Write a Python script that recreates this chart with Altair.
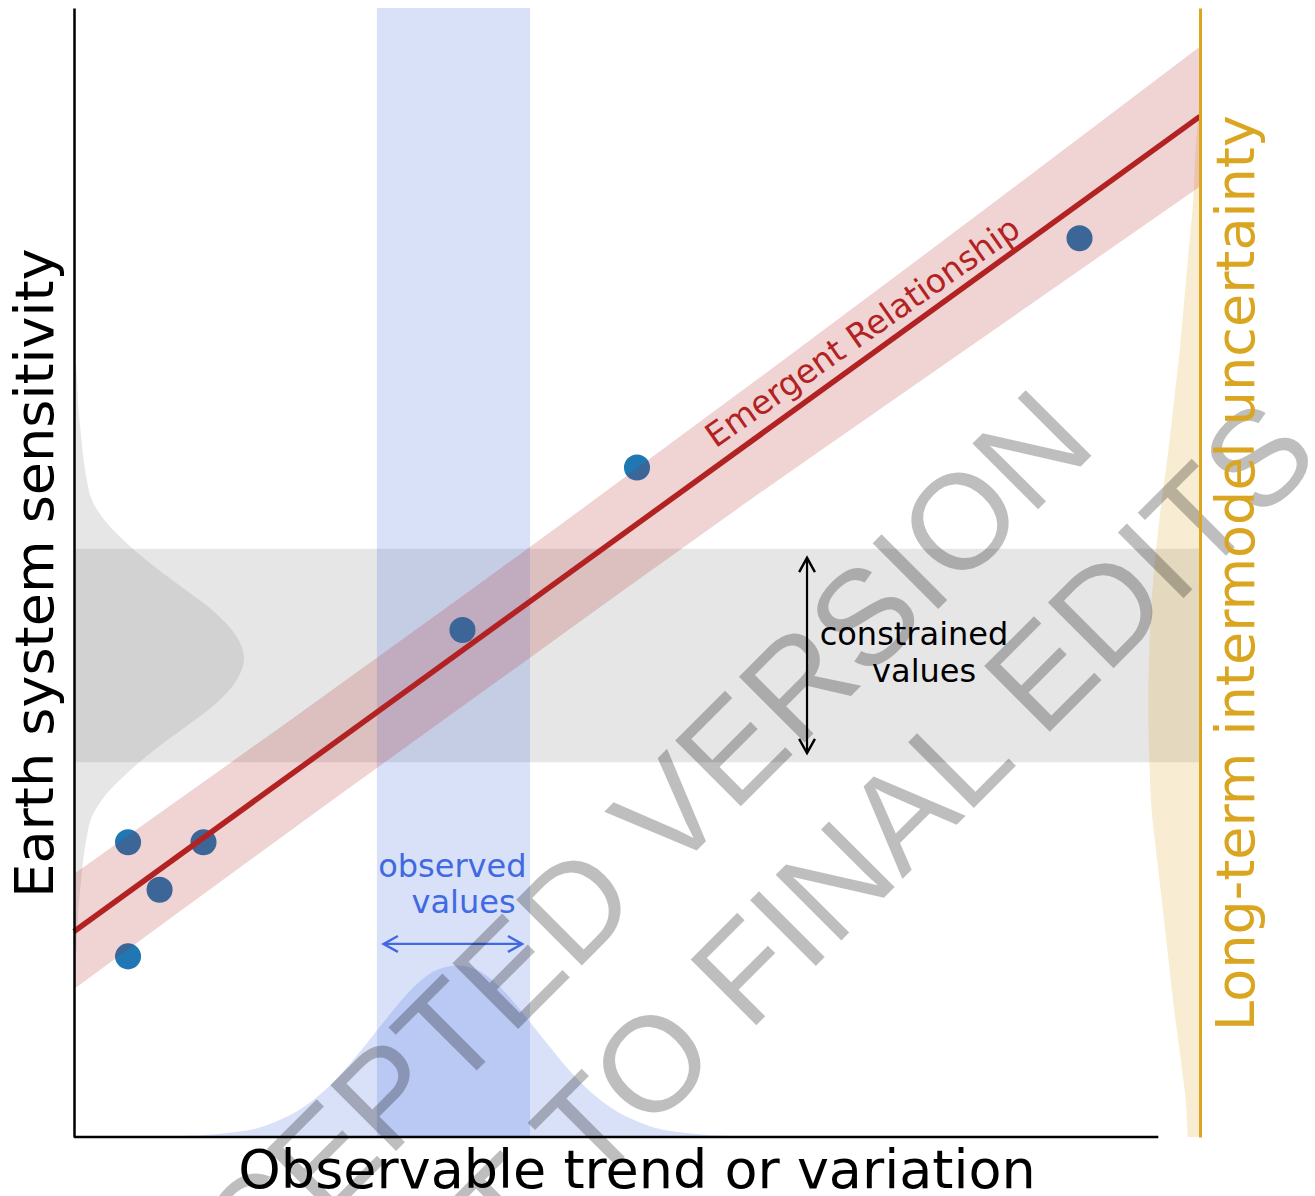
import altair as alt
import pandas as pd

FONT = "DejaVu Sans"
W, H = 1126, 1129  # plot area in pixels

# ---------------- data ----------------
# individual model results
model_x = [0.48, 0.76, 1.15, 0.48, 3.45, 5.00, 8.93]
model_y = [2.61, 2.19, 2.61, 1.60, 4.49, 5.93, 7.96]

# emergent relationship (fit) and its uncertainty band
fit_x = [0.0, 10.0]
fit_y = [1.82, 9.04]
band_x = [0, 2, 4, 6, 8, 10]
band_lo = [1.31, 2.77, 4.21, 5.64, 7.03, 8.42]
band_hi = [2.33, 3.75, 5.19, 6.66, 8.15, 9.66]

# observed range (vertical strip) and constrained range (horizontal strip)
obs_range = [2.69, 4.05]
con_range = [3.32, 5.21]

# pdf of the observations along the x axis
obs_pdf_x = [1.0, 1.2, 1.4, 1.6, 1.8, 2.0, 2.2, 2.4, 2.6, 2.8, 3.0, 3.2, 3.4,
             3.6, 3.8, 4.0, 4.2, 4.4, 4.6, 4.8, 5.0, 5.2, 5.4, 5.6, 5.8]
obs_pdf_h = [0.01, 0.02, 0.04, 0.07, 0.14, 0.24, 0.39, 0.59, 0.83, 1.08, 1.31, 1.47, 1.52,
             1.47, 1.31, 1.08, 0.83, 0.59, 0.39, 0.24, 0.14, 0.07, 0.04, 0.02, 0.01]

# constrained pdf along the y axis (left edge)
con_pdf_y = [1.64, 1.84, 2.04, 2.24, 2.44, 2.64, 2.84, 3.04, 3.24, 3.44, 3.64, 3.84, 4.04, 4.24,
             4.44, 4.64, 4.84, 5.04, 5.24, 5.44, 5.64, 5.84, 6.04, 6.24, 6.44, 6.64, 6.84]
con_pdf_w = [0.02, 0.03, 0.04, 0.06, 0.08, 0.11, 0.16, 0.29, 0.49, 0.73, 1.00, 1.26, 1.44, 1.51,
             1.44, 1.26, 1.00, 0.73, 0.49, 0.29, 0.16, 0.11, 0.08, 0.06, 0.04, 0.03, 0.02]

# intermodel spread pdf (right edge)
spread_y = [0.0, 0.24, 0.68, 1.13, 1.57, 2.01, 2.45, 2.90, 3.34, 3.81, 4.31, 4.76, 5.20,
            5.64, 6.09, 6.53, 6.97, 7.41, 7.86, 8.30, 8.74, 9.10]
spread_w = [0.11, 0.12, 0.17, 0.23, 0.28, 0.33, 0.38, 0.43, 0.45, 0.46, 0.45, 0.43, 0.39,
            0.34, 0.28, 0.23, 0.18, 0.14, 0.10, 0.06, 0.04, 0.01]

# annotations
label_text = ["Emergent Relationship", "constrained", "values", "observed", "values",
              "Observable trend or variation"]
label_x = [7.06, 7.46, 7.55, 3.36, 3.46, 5.0]
label_y = [7.05, 4.36, 4.03, 2.30, 1.98, -0.45]
label_color = ["#b22222", "black", "black", "#4169e1", "#4169e1", "black"]
label_size = [33, 32, 32, 32, 32, 54]
label_angle = [325, 0, 0, 0, 0, 0]

# double-headed arrows: constrained range (black) and observed range (blue)
arrow_x = [6.51, 2.75]
arrow_x2 = [6.51, 3.98]
arrow_y = [3.40, 1.71]
arrow_y2 = [5.13, 1.71]
arrow_color = ["black", "#4169e1"]

head_x = [6.51, 6.51, 2.75, 3.98]
head_y = [5.13, 3.40, 1.71, 1.71]
head_dir = ["up", "down", "left", "right"]
head_color = ["black", "black", "#4169e1", "#4169e1"]

watermark_text = ["ACCEPTED VERSION", "SUBJECT TO FINAL EDITS"]
watermark_x = [4.77, 5.81]
watermark_y = [1.78, 0.74]

# end of the drawn x-axis line
x_axis_end = 9.63

# ---------------- chart ----------------
xs = alt.Scale(domain=[0, 10], nice=False, zero=False)
ys = alt.Scale(domain=[0, 10], nice=False, zero=False)

title_common = dict(labels=False, ticks=False, grid=False, titleFont=FONT,
                    titleFontSize=54, titleFontWeight="normal",
                    titleAlign="center", titleBaseline="alphabetic")

# constrained range strip, carries the left axis
con_band = alt.Chart(pd.DataFrame({"x0": [0.0], "x1": [10.0],
                                   "y0": [con_range[0]], "y1": [con_range[1]]})).mark_rect(
    color="grey", opacity=0.2
).encode(
    x=alt.X("x0:Q", scale=xs, axis=None),
    x2="x1",
    y=alt.Y("y0:Q", scale=ys, axis=alt.Axis(
        title="Earth system sensitivity", orient="left", domain=True,
        domainColor="black", domainWidth=2.5, zindex=1,
        titleX=-22, titleY=H / 2, titleAngle=270, titleColor="black", **title_common)),
    y2="y1",
)

obs_band = alt.Chart(pd.DataFrame({"x0": [obs_range[0]], "x1": [obs_range[1]],
                                   "y0": [0.0], "y1": [10.0]})).mark_rect(
    color="#4169e1", opacity=0.2
).encode(
    x=alt.X("x0:Q", scale=xs, axis=None), x2="x1",
    y=alt.Y("y0:Q", scale=ys, axis=None), y2="y1",
)

con_pdf = alt.Chart(pd.DataFrame({"y": con_pdf_y, "w": con_pdf_w})).transform_calculate(
    zero="0"
).mark_area(color="grey", opacity=0.2, orient="horizontal", interpolate="monotone").encode(
    y=alt.Y("y:Q", scale=ys, axis=None),
    x=alt.X("w:Q", scale=xs, axis=None),
    x2="zero:Q",
)

obs_pdf = alt.Chart(pd.DataFrame({"x": obs_pdf_x, "h": obs_pdf_h})).transform_calculate(
    zero="0"
).mark_area(color="#4169e1", opacity=0.2, interpolate="monotone").encode(
    x=alt.X("x:Q", scale=xs, axis=None),
    y=alt.Y("h:Q", scale=ys, axis=None),
    y2="zero:Q",
)

# intermodel spread, carries the right axis
spread_pdf = alt.Chart(pd.DataFrame({"y": spread_y, "w": spread_w})).transform_calculate(
    xl="10 - datum.w", xr="10"
).mark_area(color="goldenrod", opacity=0.2, orient="horizontal", interpolate="monotone").encode(
    y=alt.Y("y:Q", scale=ys, axis=alt.Axis(
        title="Long-term intermodel uncertainty", orient="right", domain=True,
        domainColor="goldenrod", domainWidth=3, zindex=1,
        titleX=53, titleY=H / 2, titleAngle=270, titleColor="goldenrod", **title_common)),
    x=alt.X("xl:Q", scale=xs, axis=None),
    x2="xr:Q",
)

models = alt.Chart(pd.DataFrame({"x": model_x, "y": model_y})).mark_circle(
    color="#1f77b4", size=680, opacity=1
).encode(
    x=alt.X("x:Q", scale=xs, axis=None),
    y=alt.Y("y:Q", scale=ys, axis=None),
)

fit_band = alt.Chart(pd.DataFrame({"x": band_x, "lo": band_lo, "hi": band_hi})).mark_area(
    color="#b22222", opacity=0.2, interpolate="monotone"
).encode(
    x=alt.X("x:Q", scale=xs, axis=None),
    y=alt.Y("lo:Q", scale=ys, axis=None),
    y2="hi",
)

fit_line = alt.Chart(pd.DataFrame({"x": fit_x, "y": fit_y})).mark_line(
    color="#b22222", strokeWidth=5.5
).encode(
    x=alt.X("x:Q", scale=xs, axis=None),
    y=alt.Y("y:Q", scale=ys, axis=None),
)

arrows = alt.Chart(pd.DataFrame({"x": arrow_x, "x2": arrow_x2, "y": arrow_y,
                                 "y2": arrow_y2, "c": arrow_color})).mark_rule(
    strokeWidth=2.2
).encode(
    x=alt.X("x:Q", scale=xs, axis=None), x2="x2",
    y=alt.Y("y:Q", scale=ys, axis=None), y2="y2",
    color=alt.Color("c:N", scale=None),
)

# open chevron heads at both ends of each arrow
heads = alt.Chart(pd.DataFrame({"x": head_x, "y": head_y, "d": head_dir,
                                "c": head_color})).mark_point(
    filled=False, strokeWidth=2.4, size=250, opacity=1
).encode(
    x=alt.X("x:Q", scale=xs, axis=None),
    y=alt.Y("y:Q", scale=ys, axis=None),
    shape=alt.Shape("d:N", legend=None, scale=alt.Scale(
        domain=["up", "down", "left", "right"],
        range=["M -1 1.8 L 0 0 L 1 1.8", "M -1 -1.8 L 0 0 L 1 -1.8",
               "M 1.8 -1 L 0 0 L 1.8 1", "M -1.8 -1 L 0 0 L -1.8 1"])),
    color=alt.Color("c:N", scale=None),
)

labels = alt.Chart(pd.DataFrame({"t": label_text, "x": label_x, "y": label_y,
                                 "c": label_color, "s": label_size,
                                 "a": label_angle})).mark_text(
    font=FONT, align="center", baseline="alphabetic"
).encode(
    x=alt.X("x:Q", scale=xs, axis=None),
    y=alt.Y("y:Q", scale=ys, axis=None),
    text="t:N",
    color=alt.Color("c:N", scale=None),
    size=alt.Size("s:Q", scale=None),
    angle=alt.Angle("a:Q", scale=None),
)

x_axis_line = alt.Chart(pd.DataFrame({"x": [0.0], "x2": [x_axis_end], "y": [0.0]})).mark_rule(
    color="black", strokeWidth=2.5
).encode(
    x=alt.X("x:Q", scale=xs, axis=None), x2="x2",
    y=alt.Y("y:Q", scale=ys, axis=None),
)

watermark = alt.Chart(pd.DataFrame({"t": watermark_text, "x": watermark_x,
                                    "y": watermark_y})).mark_text(
    font="Liberation Sans", fontSize=135, angle=315, align="center",
    baseline="alphabetic", color="black", opacity=0.25
).encode(
    x=alt.X("x:Q", scale=xs, axis=None),
    y=alt.Y("y:Q", scale=ys, axis=None),
    text="t:N",
)

chart = alt.layer(
    con_band, obs_band, con_pdf, obs_pdf, spread_pdf, models, fit_band, fit_line,
    arrows, heads, labels, x_axis_line, watermark,
).resolve_axis(
    y="independent"
).properties(
    width=W, height=H,
    autosize=alt.AutoSizeParams(type="none"),
    padding={"left": 74, "top": 8, "right": 115, "bottom": 59},
    background="white",
).configure_view(stroke=None)

chart.save("out.html", embed_options={"renderer": "svg", "actions": False})
